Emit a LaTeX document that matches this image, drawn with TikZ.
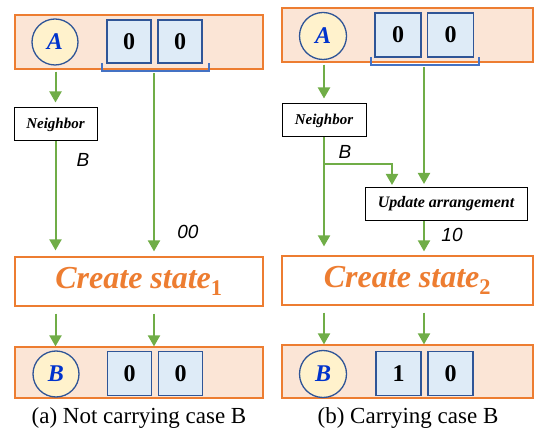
\documentclass[tikz,border=0pt]{standalone}
\usepackage{fontspec}
\setmainfont{Liberation Serif}
\newfontfamily\lblfont{Liberation Sans}
\usetikzlibrary{arrows.meta}
\definecolor{bandfill}{RGB}{251,229,214}
\definecolor{bandline}{RGB}{237,125,49}
\definecolor{circfill}{RGB}{255,242,204}
\definecolor{darkblue}{RGB}{47,85,151}
\definecolor{cellfill}{RGB}{222,235,247}
\definecolor{letterblue}{RGB}{0,51,204}
\definecolor{arrgreen}{RGB}{112,173,71}
\definecolor{bracketblue}{RGB}{68,114,196}

\begin{document}
\begin{tikzpicture}[x=1pt,y=-1pt]
            \tikzstyle{every node}=[inner sep=0pt]
            \tikzset{band/.style={draw=bandline,fill=bandfill,line width=1.2pt},
                     agent/.style={circle,draw=darkblue,fill=circfill,line width=1.3pt,
                        text=letterblue,font=\fontsize{24}{24}\selectfont\bfseries\itshape},
                     cell/.style={draw=darkblue,fill=cellfill,line width=1.6pt,
                        font=\fontsize{24}{24}\selectfont\bfseries},
                     procbox/.style={draw,line width=1pt,fill=white,font=\fontsize{15}{15}\selectfont\bfseries\itshape},
                     statebox/.style={draw=bandline,fill=white,line width=1.2pt,text=bandline,
                        font=\fontsize{32}{32}\selectfont\bfseries\itshape},
                     lbl/.style={font=\fontsize{19}{19}\lblfont\itshape},
                     arr/.style={draw=arrgreen,line width=2pt,-{Triangle[width=12pt,length=11pt]}},
                     bracket/.style={draw=bracketblue,line width=1.2pt}}
            \useasboundingbox (0,0) rectangle (535,435);

            % (a) not carrying
            \node[band,minimum width=248,minimum height=54] (ta) at (139,42) {};
            \node[agent,minimum size=46] (a) at (55,42) {A};
            \node[cell,minimum width=44,minimum height=43] (ca1) at (129,41.5) {0};
            \node[cell,minimum width=44,minimum height=43] (ca2) at (180,41.5) {0};
            \draw[bracket] (102,63) -- (102,71) -- (209,71) -- (209,63);
            \coordinate (br) at (154,71);
            \node[procbox,minimum width=83,minimum height=33] (nb) at (55.5,124.5) {Neighbor};
            \node[statebox,minimum width=248,minimum height=49] (cs) at (139,281.5) {Create state$_{\mathbf{1}}$};
            \node[band,minimum width=248,minimum height=51] (ba) at (139,372.5) {};
            \node[agent,minimum size=46] (b) at (56,374) {B};
            \node[cell,minimum width=44,minimum height=44] (cb1) at (129.5,373.5) {0};
            \node[cell,minimum width=44,minimum height=44] (cb2) at (180.5,373.5) {0};
            \node[lbl] (lb) at (83,160) {B};
            \node[lbl] (l00) at (188,232) {00};
            \node[font=\fontsize{23}{23}\selectfont] (capa) at (139,418) {(a) Not carrying case B};

            \draw[arr,shorten <=2pt,shorten >=5pt] (ta.south -| nb.north) -- (nb.north);
            \draw[arr,shorten >=6pt] (nb.south) -- (nb.south |- cs.north);
            \draw[arr,shorten <=2pt,shorten >=5pt] (br) -- (br |- cs.north);
            \draw[arr,shorten <=7pt] (cs.south -| nb.south) -- (ba.north -| nb.south);
            \draw[arr,shorten <=7pt] (cs.south -| br) -- (ba.north -| br);

            % (b) carrying
            \node[band,minimum width=251,minimum height=54] (tb) at (407.5,35) {};
            \node[agent,minimum size=47] (a2) at (323,36) {A};
            \node[cell,minimum width=46,minimum height=44] (ca3) at (398,35) {0};
            \node[cell,minimum width=46,minimum height=44] (ca4) at (450.5,35) {0};
            \draw[bracket] (371,57) -- (371,65) -- (479,65) -- (479,57);
            \coordinate (br2) at (424,65);
            \node[procbox,minimum width=84,minimum height=33] (nb2) at (324,120.5) {Neighbor};
            \node[procbox,minimum width=162,minimum height=33,font=\fontsize{16}{16}\selectfont\bfseries\itshape] (ua) at (446,204) {Update arrangement};
            \node[statebox,minimum width=251,minimum height=49] (cs2) at (407.5,280.5) {Create state$_{\mathbf{2}}$};
            \node[band,minimum width=251,minimum height=53] (bb) at (407.5,371.5) {};
            \node[agent,minimum size=47] (b2) at (323,374) {B};
            \node[cell,minimum width=45,minimum height=44] (cb3) at (398.5,373.5) {1};
            \node[cell,minimum width=45,minimum height=44] (cb4) at (450.5,373.5) {0};
            \node[lbl] (lb2) at (345,152) {B};
            \node[lbl] (l10) at (452,235) {10};
            \node[font=\fontsize{23}{23}\selectfont] (capb) at (408,418) {(b) Carrying case B};
            \coordinate (fork) at (324,164);

            \draw[arr,shorten <=2pt,shorten >=5pt] (tb.south -| nb2.north) -- (nb2.north);
            \draw[arr,shorten >=9pt] (nb2.south) -- (nb2.south |- cs2.north);
            \draw[arr,shorten >=3pt] (fork) -- (392,164) -- (392,188);
            \draw[arr,shorten <=2pt,shorten >=3pt] (br2) -- (br2 |- ua.north);
            \draw[arr,shorten >=4pt] (br2 |- ua.south) -- (br2 |- cs2.north);
            \draw[arr,shorten <=7pt] (cs2.south -| nb2.south) -- (bb.north -| nb2.south);
            \draw[arr,shorten <=7pt] (cs2.south -| br2) -- (bb.north -| br2);
          \end{tikzpicture}
\end{document}
